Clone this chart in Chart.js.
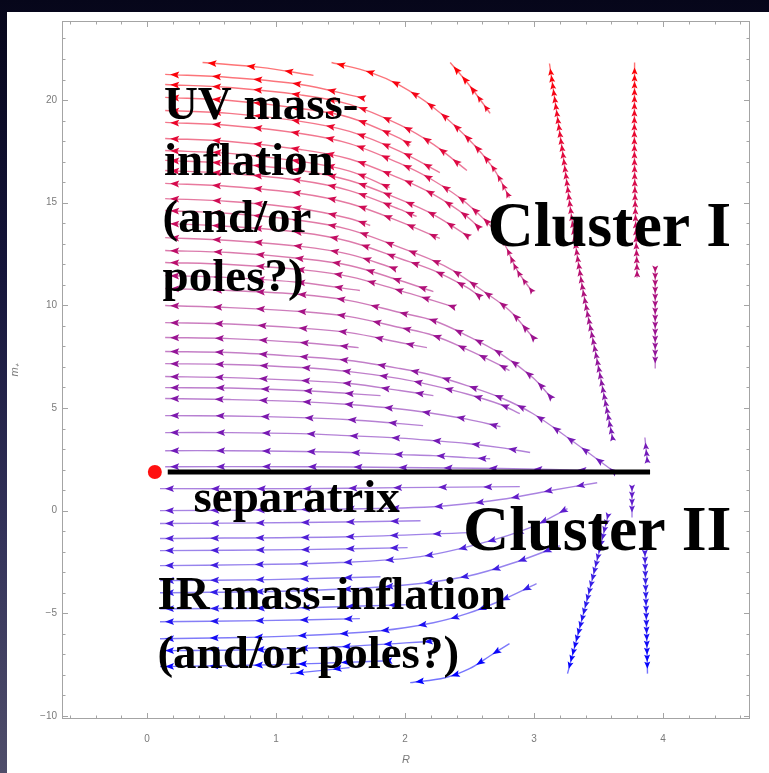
<!DOCTYPE html>
<html>
<head>
<meta charset="utf-8">
<script src="https://cdn.jsdelivr.net/npm/chart.js@4.4.1/dist/chart.umd.min.js"></script>
<style>
  html, body { margin: 0; padding: 0; }
  body {
    width: 769px; height: 773px; overflow: hidden; position: relative;
    background: linear-gradient(to bottom, #06061a 0%, #15153a 35%, #34335a 70%, #4f4e6a 100%);
  }
  #panel { position: absolute; left: 7px; top: 12px; right: 0; bottom: 0; background: #fff; }
  #c { position: absolute; left: 0; top: 0; }
</style>
</head>
<body>
<div id="panel"></div>
<canvas id="c" width="769" height="773"></canvas>
<script>
// ---- axis ticks ----
const X_TICKS = [0, 1, 2, 3, 4];
const Y_TICKS = [-10, -5, 0, 5, 10, 15, 20];

// ---- stream lines: [R, m+] points, ordered from where the flow starts to where it goes ----
// upper family (flow towards small R and larger m+)
const S_U1   = [[1.29,21.20],[0.88,21.59],[0.43,21.83]];
const S_UTOP = [[2.66,19.35],[2.50,20.71],[2.35,21.83]];
const S_U2   = [[2.81,15.25],[2.68,16.72],[2.48,18.18],[2.22,19.64],[1.96,20.71],[1.73,21.35],[1.43,21.83]];
const S_L74  = [[1.65,20.13],[1.19,20.76],[0.64,21.10],[0.14,21.25]];
const S_L84  = [[2.48,16.57],[2.22,17.84],[1.96,18.79],[1.57,19.79],[1.19,20.25],[0.64,20.61],[0.14,20.76]];
const S_L97  = [[2.04,17.79],[1.96,18.13],[1.57,19.15],[1.19,19.59],[0.64,19.98],[0.14,20.13]];
const S_L110 = [[2.27,16.47],[1.96,17.50],[1.57,18.47],[1.19,18.96],[0.64,19.35],[0.14,19.49]];
const S_T4   = [[2.98,10.72],[2.87,11.70],[2.74,13.30],[2.48,14.96],[2.22,16.08],[1.96,16.91],[1.57,17.88],[1.19,18.37],[0.64,18.76],[0.14,18.91]];
const S_L138 = [[2.58,13.74],[2.48,14.33],[2.22,15.40],[1.96,16.18],[1.57,17.13],[1.19,17.59],[0.64,17.98],[0.14,18.13]];
const S_L150 = [[1.88,15.74],[1.57,16.54],[1.19,17.01],[0.64,17.40],[0.14,17.54]];
const S_L160 = [[2.48,13.40],[2.22,14.42],[1.96,15.16],[1.57,16.08],[1.19,16.57],[0.64,16.91],[0.14,17.06]];
const S_L170 = [[2.09,14.33],[1.96,14.67],[1.57,15.59],[1.19,16.08],[0.64,16.42],[0.14,16.57]];
const S_L183 = [[2.27,13.26],[1.96,14.08],[1.57,14.96],[1.19,15.45],[0.64,15.79],[0.14,15.94]];
const S_L198 = [[1.73,13.89],[1.57,14.23],[1.19,14.72],[0.64,15.06],[0.14,15.20]];
const S_T3   = [[2.98,8.53],[2.81,9.75],[2.60,10.72],[2.37,11.70],[2.22,12.18],[1.96,12.82],[1.57,13.69],[1.19,14.13],[0.64,14.47],[0.14,14.62]];
const S_L223 = [[2.58,10.43],[2.48,10.87],[2.22,11.70],[1.96,12.28],[1.57,13.11],[1.19,13.55],[0.64,13.84],[0.14,13.99]];
const S_L237 = [[1.92,11.79],[1.57,12.48],[1.19,12.87],[0.64,13.16],[0.14,13.30]];
const S_L250 = [[2.22,10.67],[1.96,11.21],[1.57,11.94],[1.19,12.28],[0.64,12.57],[0.14,12.67]];
const S_L262 = [[2.37,9.94],[2.22,10.23],[1.96,10.72],[1.57,11.40],[1.19,11.74],[0.64,11.99],[0.14,12.09]];
const S_L275 = [[1.65,10.72],[1.19,11.11],[0.64,11.35],[0.14,11.45]];
const S_T2   = [[3.14,5.46],[2.99,6.48],[2.74,7.65],[2.48,8.53],[2.22,9.26],[1.96,9.65],[1.57,10.23],[1.19,10.53],[0.64,10.72],[0.14,10.82]];
const S_L305 = [[2.81,6.82],[2.74,7.07],[2.48,7.85],[2.22,8.53],[1.96,8.92],[1.57,9.45],[1.19,9.70],[0.64,9.89],[0.14,9.99]];
const S_L322 = [[2.17,7.94],[1.96,8.19],[1.57,8.67],[1.19,8.89],[0.64,9.09],[0.14,9.16]];
const S_L337 = [[1.64,7.94],[1.19,8.19],[0.64,8.38],[0.14,8.43]];
const S_T1   = [[3.61,1.95],[3.26,3.56],[2.99,4.73],[2.74,5.51],[2.48,6.09],[2.22,6.58],[1.96,6.92],[1.57,7.31],[1.19,7.50],[0.64,7.70],[0.14,7.75]];
const S_L363 = [[2.89,4.73],[2.74,5.17],[2.48,5.68],[2.22,6.09],[1.96,6.43],[1.57,6.77],[1.19,6.97],[0.64,7.12],[0.14,7.16]];
const S_L376 = [[2.22,5.60],[1.96,5.85],[1.57,6.19],[1.19,6.34],[0.64,6.48],[0.14,6.53]];
const S_L387 = [[1.81,5.60],[1.57,5.70],[1.19,5.85],[0.64,5.97],[0.14,5.99]];
const S_L398 = [[2.74,4.09],[2.48,4.46],[2.22,4.73],[1.96,4.95],[1.57,5.17],[1.19,5.31],[0.64,5.41],[0.14,5.46]];
const S_L415 = [[2.14,4.14],[1.96,4.24],[1.57,4.43],[1.19,4.53],[0.64,4.61],[0.14,4.63]];
const S_L432 = [[2.97,2.83],[2.74,3.07],[2.48,3.27],[2.22,3.41],[1.96,3.53],[1.57,3.65],[1.19,3.75],[0.64,3.80],[0.14,3.80]];
const S_L450 = [[2.66,2.53],[2.48,2.58],[2.22,2.68],[1.96,2.73],[1.57,2.83],[1.19,2.88],[0.64,2.92],[0.14,2.92]];
const S_L466 = [[3.51,1.95],[2.74,2.05],[1.96,2.10],[1.19,2.14],[0.14,2.14]];

// lower family (flow towards small R and more negative m+)
const S_LA = [[2.89,1.17],[1.96,1.12],[1.19,1.07],[0.10,1.07]];
const S_LB = [[3.49,1.36],[3.12,0.97],[2.74,0.54],[2.22,0.19],[1.19,0.05],[0.10,0.00]];
const S_LC = [[2.12,-0.49],[1.19,-0.58],[0.10,-0.63]];
const S_LD0 = [[2.50,-1.07],[1.57,-1.27],[0.10,-1.36]];
const S_LE = [[2.02,-1.80],[1.19,-1.90],[0.10,-1.95]];
const S_LD = [[3.26,0.10],[2.97,-0.83],[2.58,-1.61],[2.12,-2.24],[1.50,-2.53],[0.80,-2.63],[0.10,-2.68]];
const S_LF = [[1.81,-3.22],[0.95,-3.36],[0.10,-3.41]];
const S_LO = [[3.20,-1.71],[2.89,-2.44],[2.50,-3.17],[1.96,-3.65],[1.19,-3.90],[0.10,-4.00]];
const S_LI = [[2.04,-4.58],[1.19,-4.73],[0.10,-4.78]];
const S_LJ = [[1.65,-5.26],[0.88,-5.36],[0.10,-5.41]];
const S_LH = [[3.02,-3.56],[2.74,-4.39],[2.48,-5.02],[2.22,-5.46],[1.81,-5.85],[1.19,-6.09],[0.64,-6.19],[0.10,-6.24]];
const S_LL = [[2.27,-6.34],[1.50,-6.63],[0.80,-6.78],[0.10,-6.82]];
const S_LK = [[2.81,-6.48],[2.66,-7.07],[2.50,-7.70],[2.31,-8.14],[2.04,-8.38]];
const S_LM = [[1.88,-7.31],[1.03,-7.50],[0.10,-7.60]];
const S_LN = [[1.57,-7.65],[1.11,-7.94]];

// near-vertical streams close to R = 3 .. 4
const S_V1 = [[3.61,3.51],[3.49,7.31],[3.36,11.45],[3.22,17.54],[3.12,21.78]];
const S_V2 = [[3.80,11.35],[3.78,16.57],[3.78,21.83]];
const S_V3 = [[3.94,11.70],[3.94,6.92]];
const S_V4 = [[3.88,2.34],[3.86,3.56]];
const S_V5 = [[3.76,1.07],[3.76,-0.34]];
const S_V6 = [[3.57,-0.34],[3.43,-3.90],[3.26,-7.94]];
const S_V7 = [[3.86,-1.95],[3.87,-4.87],[3.88,-7.94]];

const STREAMS = [
  S_U1, S_UTOP, S_U2, S_L74, S_L84, S_L97, S_L110, S_T4, S_L138, S_L150, S_L160, S_L170,
  S_L183, S_L198, S_T3, S_L223, S_L237, S_L250, S_L262, S_L275, S_T2, S_L305, S_L322,
  S_L337, S_T1, S_L363, S_L376, S_L387, S_L398, S_L415, S_L432, S_L450, S_L466,
  S_LA, S_LB, S_LC, S_LD0, S_LE, S_LD, S_LF, S_LO, S_LI, S_LJ, S_LH, S_LL, S_LK, S_LM, S_LN,
  S_V1, S_V2, S_V3, S_V4, S_V5, S_V6, S_V7
];

// separatrix and the fixed point at its end
const SEPARATRIX = [[0.16, 1.88], [3.90, 1.88]];
const FIXED_POINT = [[0.06, 1.88]];

// ---- annotations (text, anchor in data coordinates) ----
const NOTES = [
  { text: 'UV mass-',          R: 0.13, m: 19.10, size: 47 },
  { text: 'inflation',         R: 0.13, m: 16.37, size: 47 },
  { text: '(and/or',           R: 0.12, m: 13.55, size: 47 },
  { text: 'poles?)',           R: 0.12, m: 10.72, size: 47 },
  { text: 'Cluster I',         R: 2.64, m: 12.87, size: 64 },
  { text: 'separatrix',        R: 0.36, m: -0.05, size: 47 },
  { text: 'Cluster II',        R: 2.45, m: -1.90, size: 64 },
  { text: 'IR mass-inflation', R: 0.08, m: -4.78, size: 47 },
  { text: '(and/or poles?)',   R: 0.08, m: -7.65, size: 47 }
];

// ---- styling ----
const COLOR_STOPS = [ // m+, r, g, b
  [-8, 0, 0, 255], [-4, 50, 30, 232], [0, 95, 30, 205], [4, 120, 25, 178],
  [8, 150, 20, 150], [12, 185, 15, 110], [17, 222, 10, 68], [22, 255, 0, 0]
];
const LINE_ALPHA = 0.55;
const FRAME_COLOR = '#a4a4a4';
const LABEL_COLOR = '#7a7a7a';
const ARROW_MAX_GAP = 46, ARROW_MIN_GAP = 7, ARROW_SLOPE_K = 2.2, ARROW_START = 5;

function colorAt(m, alpha) {
  const s = COLOR_STOPS;
  let c;
  if (m <= s[0][0]) c = s[0].slice(1);
  else if (m >= s[s.length - 1][0]) c = s[s.length - 1].slice(1);
  else {
    for (let i = 0; i < s.length - 1; i++) {
      if (m >= s[i][0] && m <= s[i + 1][0]) {
        const f = (m - s[i][0]) / (s[i + 1][0] - s[i][0]);
        c = [1, 2, 3].map(k => Math.round(s[i][k] + (s[i + 1][k] - s[i][k]) * f));
        break;
      }
    }
  }
  return `rgba(${c[0]},${c[1]},${c[2]},${alpha})`;
}

let gradCache = null, gradKey = '';
function streamColor(context) {
  const chart = context.chart;
  if (!chart.chartArea) return colorAt(5, LINE_ALPHA);
  const y = chart.scales.y;
  const lo = COLOR_STOPS[0][0], hi = COLOR_STOPS[COLOR_STOPS.length - 1][0];
  const y0 = y.getPixelForValue(lo), y1 = y.getPixelForValue(hi);
  const key = y0 + '|' + y1;
  if (gradCache && key === gradKey) return gradCache;
  const g = chart.ctx.createLinearGradient(0, y0, 0, y1);
  COLOR_STOPS.forEach(st => g.addColorStop((st[0] - lo) / (hi - lo), colorAt(st[0], LINE_ALPHA)));
  gradCache = g; gradKey = key;
  return g;
}

// sample the drawn (bezier) path of a line dataset
function pathSamples(points) {
  const out = [];
  for (let k = 0; k < points.length - 1; k++) {
    const a = points[k], b = points[k + 1];
    const c1x = a.cp2x !== undefined ? a.cp2x : a.x, c1y = a.cp2y !== undefined ? a.cp2y : a.y;
    const c2x = b.cp1x !== undefined ? b.cp1x : b.x, c2y = b.cp1y !== undefined ? b.cp1y : b.y;
    const n = 20;
    for (let j = (k === 0 ? 0 : 1); j <= n; j++) {
      const t = j / n, u = 1 - t;
      out.push({
        x: u * u * u * a.x + 3 * u * u * t * c1x + 3 * u * t * t * c2x + t * t * t * b.x,
        y: u * u * u * a.y + 3 * u * u * t * c1y + 3 * u * t * t * c2y + t * t * t * b.y
      });
    }
  }
  return out;
}

const arrowPlugin = {
  id: 'streamArrows',
  afterDatasetDraw(chart, args) {
    const ds = chart.data.datasets[args.index];
    if (!ds.isStream) return;
    const s = pathSamples(args.meta.data).reverse(); // head first
    if (s.length < 2) return;
    const cum = [0];
    for (let i = 1; i < s.length; i++) cum.push(cum[i - 1] + Math.hypot(s[i].x - s[i - 1].x, s[i].y - s[i - 1].y));
    const total = cum[cum.length - 1];
    const ctx = chart.ctx, ys = chart.scales.y;
    ctx.save();
    let d = ARROW_START, idx = 0;
    while (d < total - 2) {
      while (idx < s.length - 2 && cum[idx + 1] < d) idx++;
      const seg = (cum[idx + 1] - cum[idx]) || 1;
      const f = Math.min(1, (d - cum[idx]) / seg);
      const px = s[idx].x + (s[idx + 1].x - s[idx].x) * f;
      const py = s[idx].y + (s[idx + 1].y - s[idx].y) * f;
      let dx = s[idx].x - s[idx + 1].x, dy = s[idx].y - s[idx + 1].y;
      const len = Math.hypot(dx, dy) || 1;
      dx /= len; dy /= len;
      const slope = Math.abs(dy) / Math.max(Math.abs(dx), 1e-6);
      const gap = Math.max(ARROW_MIN_GAP, ARROW_MAX_GAP / (1 + ARROW_SLOPE_K * slope));
      const L = gap < 12 ? 7 : 9, hw = gap < 12 ? 3 : 3.4;
      ctx.fillStyle = colorAt(ys.getValueForPixel(py), 1);
      ctx.beginPath();
      ctx.moveTo(px, py);
      ctx.lineTo(px - dx * L - dy * hw, py - dy * L + dx * hw);
      ctx.lineTo(px - dx * L * 0.8, py - dy * L * 0.8);
      ctx.lineTo(px - dx * L + dy * hw, py - dy * L - dx * hw);
      ctx.closePath();
      ctx.fill();
      d += gap;
    }
    ctx.restore();
  }
};

const framePlugin = {
  id: 'frame',
  beforeDatasetsDraw(chart) {
    const { ctx, chartArea: a, scales: { x, y } } = chart;
    ctx.save();
    ctx.strokeStyle = FRAME_COLOR;
    ctx.lineWidth = 1;
    ctx.strokeRect(Math.round(a.left) + 0.5, Math.round(a.top) + 0.5, Math.round(a.width) - 1, Math.round(a.height) - 1);
    ctx.beginPath();
    for (let v = Math.ceil(x.min / 0.2) * 0.2; v <= x.max + 1e-9; v += 0.2) {
      const major = Math.abs(v - Math.round(v)) < 1e-6;
      const len = major ? 6 : 3.5;
      const px = Math.round(x.getPixelForValue(v)) + 0.5;
      ctx.moveTo(px, a.bottom); ctx.lineTo(px, a.bottom - len);
      ctx.moveTo(px, a.top); ctx.lineTo(px, a.top + len);
    }
    for (let v = Math.ceil(y.min); v <= y.max + 1e-9; v += 1) {
      const major = v % 5 === 0;
      const len = major ? 6 : 3.5;
      const py = Math.round(y.getPixelForValue(v)) + 0.5;
      ctx.moveTo(a.left, py); ctx.lineTo(a.left + len, py);
      ctx.moveTo(a.right, py); ctx.lineTo(a.right - len, py);
    }
    ctx.stroke();
    ctx.restore();
  }
};

const notesPlugin = {
  id: 'notes',
  afterDraw(chart) {
    const { ctx, scales: { x, y } } = chart;
    ctx.save();
    ctx.fillStyle = '#000';
    ctx.textBaseline = 'alphabetic';
    ctx.textAlign = 'left';
    NOTES.forEach(n => {
      ctx.font = `bold ${n.size}px "Liberation Serif", "Times New Roman", serif`;
      ctx.fillText(n.text, x.getPixelForValue(n.R), y.getPixelForValue(n.m));
    });
    ctx.restore();
  }
};

const toPts = arr => arr.map(([R, m]) => ({ x: R, y: m }));
const fmt = v => (v < 0 ? '\u2212' + Math.abs(v) : String(v));

const datasets = STREAMS.map(s => ({
  data: toPts(s),
  isStream: true,
  showLine: true,
  borderColor: streamColor,
  borderWidth: 1.4,
  pointRadius: 0,
  tension: 0.35,
  fill: false,
  order: 3
}));
datasets.push({
  data: toPts(SEPARATRIX), showLine: true, borderColor: '#000', borderWidth: 5,
  borderCapStyle: 'butt', pointRadius: 0, tension: 0, order: 2
});
datasets.push({
  data: toPts(FIXED_POINT), showLine: false, pointRadius: 7, pointBackgroundColor: '#ff1010',
  pointBorderColor: '#ff1010', pointBorderWidth: 0, order: 1
});

Chart.defaults.font.family = '"Liberation Sans", Arial, sans-serif';

new Chart(document.getElementById('c'), {
  type: 'scatter',
  data: { datasets },
  options: {
    responsive: false,
    animation: false,
    devicePixelRatio: 1,
    layout: { padding: { top: 21, right: 19, left: 0, bottom: 0 } },
    plugins: { legend: { display: false }, tooltip: { enabled: false } },
    scales: {
      x: {
        type: 'linear', min: -0.66, max: 4.675,
        afterBuildTicks: s => { s.ticks = X_TICKS.map(v => ({ value: v })); },
        afterFit: s => { s.height = 54; },
        grid: { display: false, drawTicks: false },
        border: { display: false },
        ticks: { color: LABEL_COLOR, font: { size: 10 }, padding: 14, callback: fmt, maxRotation: 0 },
        title: { display: true, text: 'R', color: LABEL_COLOR, font: { size: 11, style: 'italic' }, padding: { top: 0, bottom: 6 } }
      },
      y: {
        type: 'linear', min: -10.15, max: 23.85,
        afterBuildTicks: s => { s.ticks = Y_TICKS.map(v => ({ value: v })); },
        afterFit: s => { s.width = 62; },
        grid: { display: false, drawTicks: false },
        border: { display: false },
        ticks: { color: LABEL_COLOR, font: { size: 10 }, padding: 5, callback: fmt },
        title: { display: true, text: 'm\u208A', color: LABEL_COLOR, font: { size: 11, style: 'italic' }, padding: { top: 8, bottom: 0 } }
      }
    }
  },
  plugins: [framePlugin, arrowPlugin, notesPlugin]
});
</script>
</body>
</html>
